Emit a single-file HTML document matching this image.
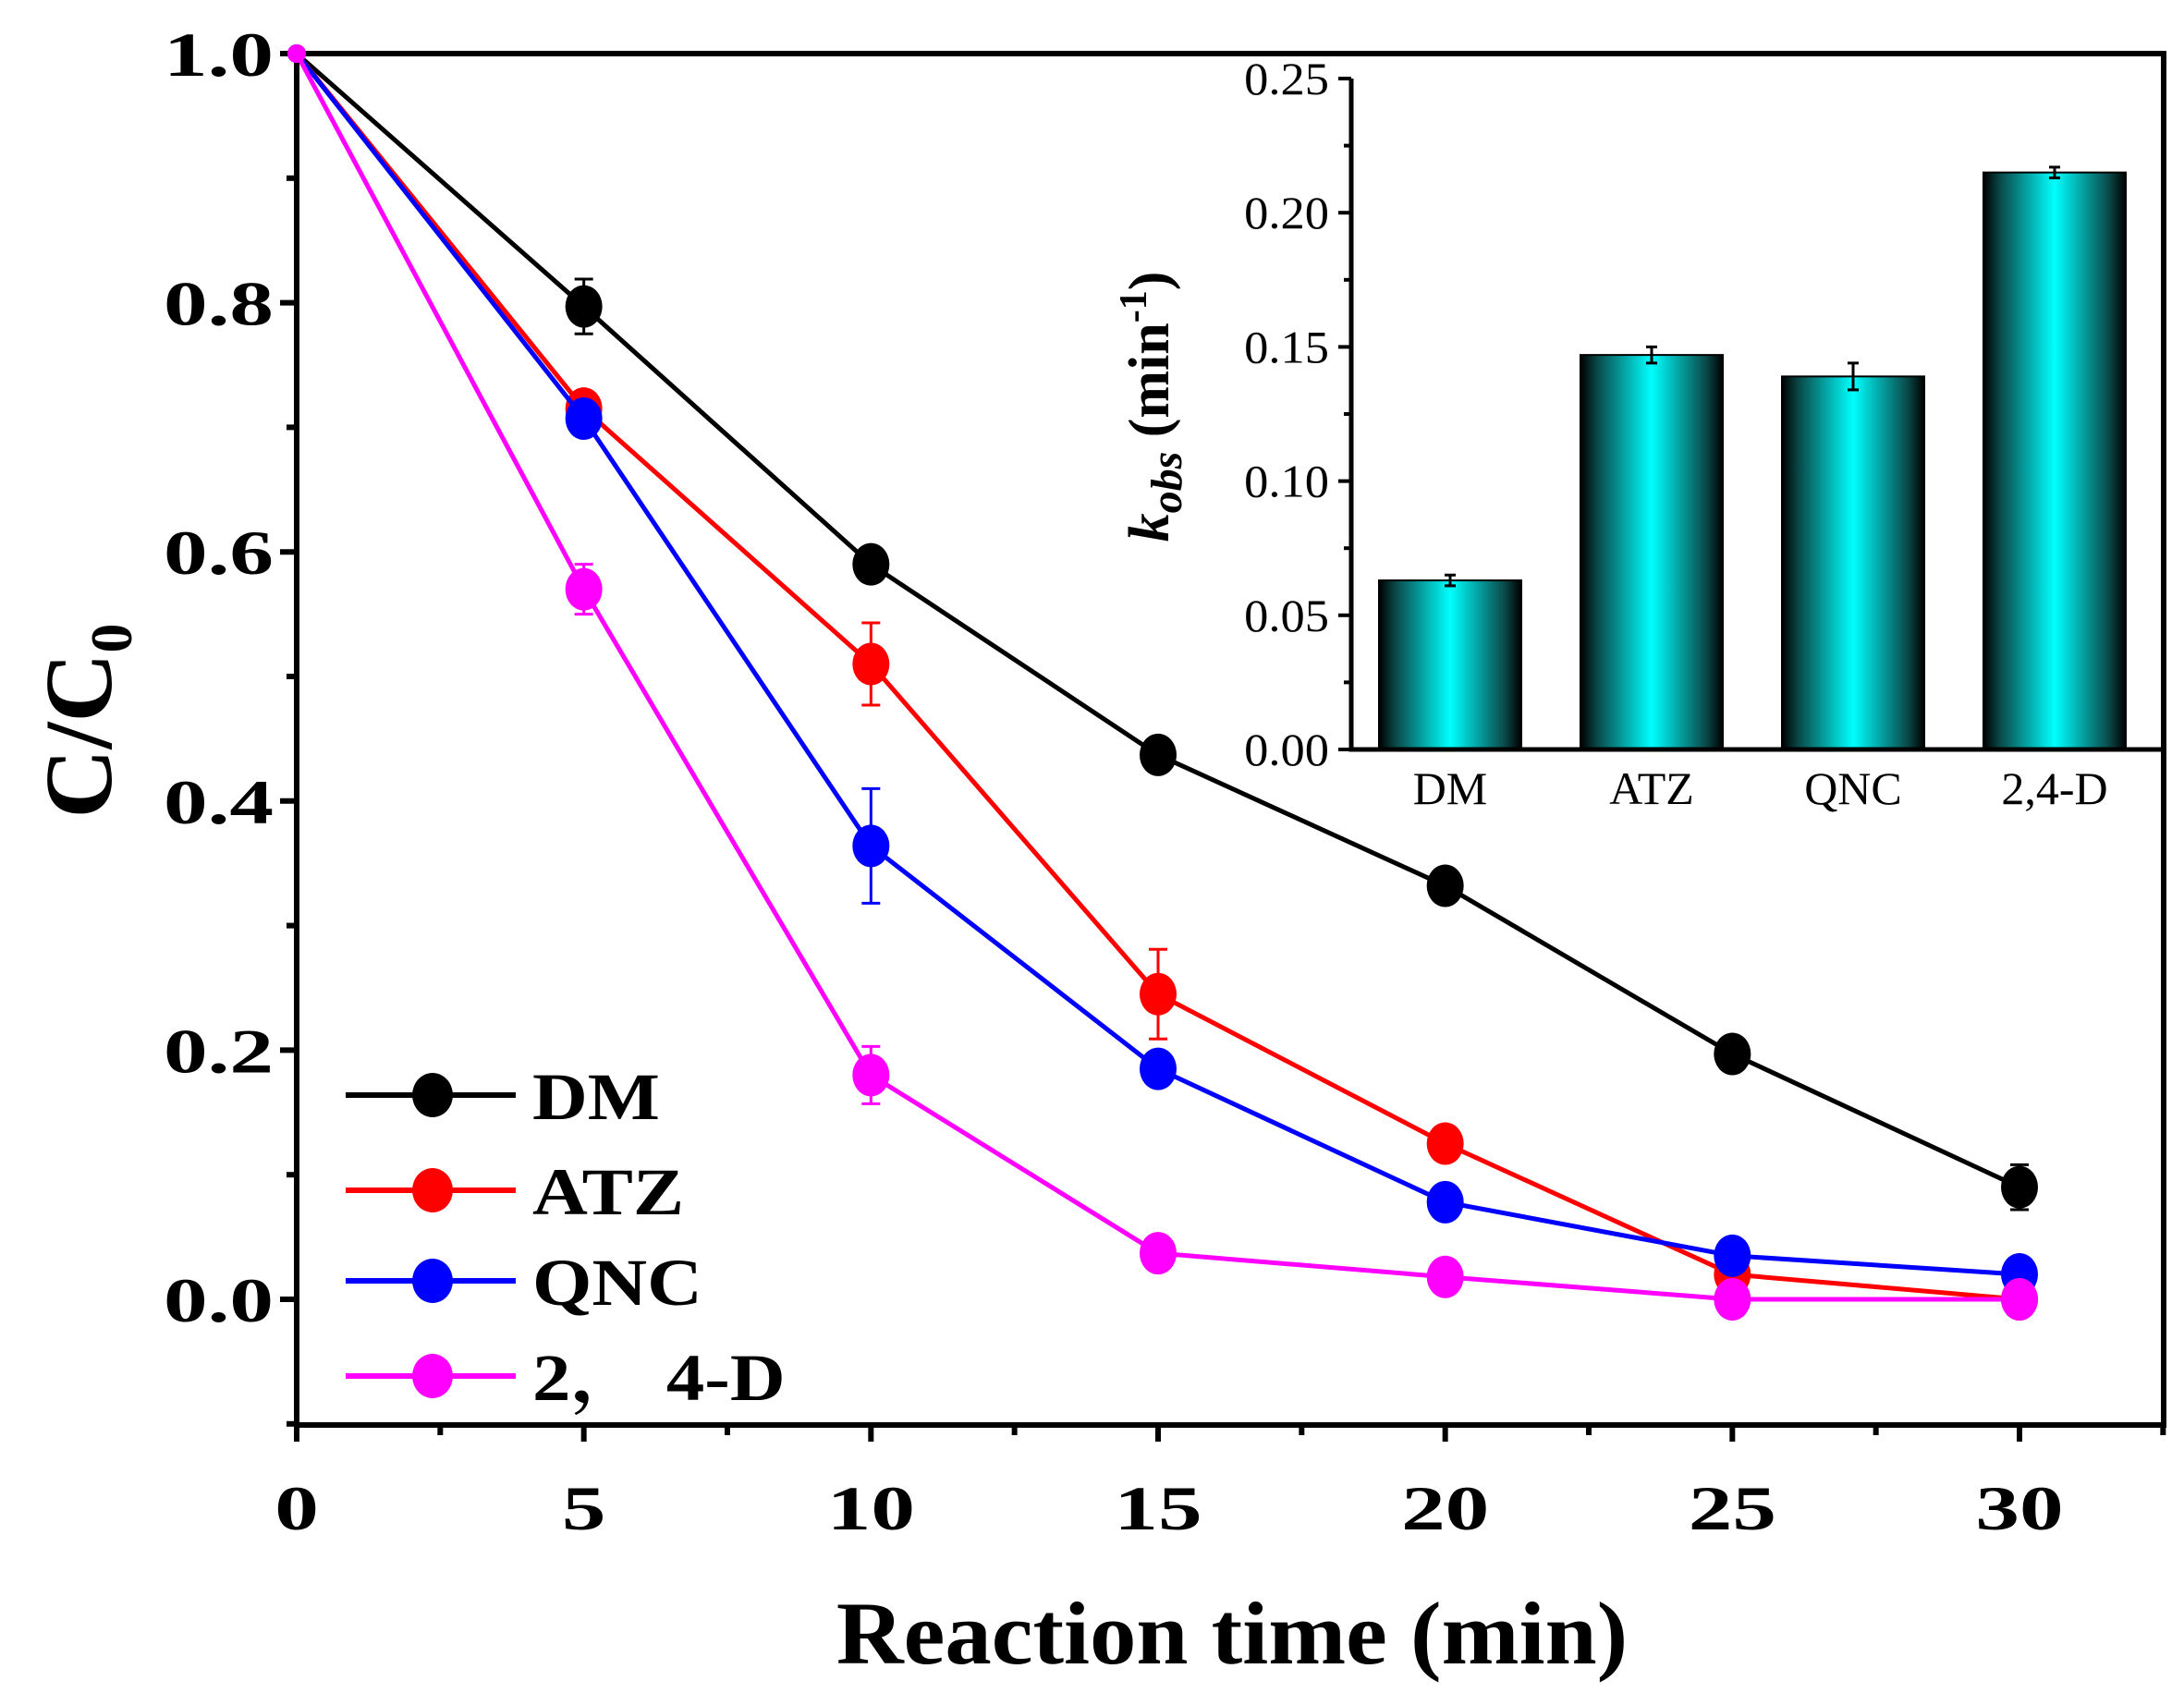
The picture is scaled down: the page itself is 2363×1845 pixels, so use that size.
<!DOCTYPE html>
<html><head><meta charset="utf-8"><style>
html,body{margin:0;padding:0;background:#fff;}
svg{display:block;font-family:"Liberation Serif",serif;}
</style></head><body>
<svg id="chart" width="2363" height="1845" viewBox="0 0 2363 1845" xmlns="http://www.w3.org/2000/svg">
<defs>
<linearGradient id="barGrad" x1="0" x2="1" y1="0" y2="0">
<stop offset="0" stop-color="#000"/><stop offset="0.12" stop-color="#0a4a4a"/><stop offset="0.5" stop-color="#00ffff"/><stop offset="0.88" stop-color="#0a4a4a"/><stop offset="1" stop-color="#000"/>
</linearGradient>
</defs>
<g id="main"></g>
<g id="inset"></g>
</svg>
<script>
const times = [0, 5, 10, 15, 20, 25, 30];
const seriesNames = ["DM", "ATZ", "QNC", "2\uFF0C 4-D"];
const seriesColors = ["#000000", "#ff0000", "#0000ff", "#ff00ff"];
const dmValues = [1, 0.797, 0.59, 0.437, 0.332, 0.197, 0.09];
const dmErrors = [0, 0.022, 0.01, 0.01, 0.01, 0.012, 0.018];
const atzValues = [1, 0.715, 0.51, 0.245, 0.125, 0.02, 0.0];
const atzErrors = [0, 0.01, 0.033, 0.036, 0.01, 0.015, 0.005];
const qncValues = [1, 0.707, 0.364, 0.185, 0.078, 0.035, 0.02];
const qncErrors = [0, 0.01, 0.046, 0.01, 0.01, 0.01, 0.01];
const dValues = [1, 0.57, 0.18, 0.037, 0.018, 0.0, 0.0];
const dErrors = [0, 0.02, 0.023, 0.008, 0.005, 0.005, 0.005];
const xTicks = [0, 5, 10, 15, 20, 25, 30];
const yTicks = [0.0, 0.2, 0.4, 0.6, 0.8, 1.0];
const insetCategories = ["DM", "ATZ", "QNC", "2,4-D"];
const insetValues = [0.063, 0.147, 0.139, 0.215];
const insetErrors = [0.002, 0.003, 0.005, 0.002];
const insetTicks = [0.00, 0.05, 0.10, 0.15, 0.20, 0.25];

const NS = "http://www.w3.org/2000/svg";
function mk(parent, tag, attrs, text) {
  const e = document.createElementNS(NS, tag);
  for (const k in attrs) e.setAttribute(k, attrs[k]);
  if (text !== undefined) e.textContent = text;
  parent.appendChild(e);
  return e;
}
const X0 = 321, X30 = 2185, Y0 = 1406, Y1 = 58;
const L = 321, R = 2341, T = 58, B = 1542;
const sx = v => X0 + (X30 - X0) * v / 30;
const sy = v => Y0 - (Y0 - Y1) * v;
const main = document.getElementById('main');

const frame = mk(main, 'rect', {x: L, y: T, width: R - L, height: B - T, fill: 'none', stroke: '#000', 'stroke-width': 6});



for (let k = -1; k <= 10; k++) {
  const v = k / 10, major = k % 2 === 0;
  const t = mk(main, 'line', {x1: L - (major ? 18 : 11), x2: L, y1: sy(v), y2: sy(v), stroke: '#000', 'stroke-width': 6});
  
  
}
yTicks.forEach(v => {
  const t = mk(main, 'text', {transform: `translate(296,${sy(v) + 24}) scale(1.4,1)`, 'text-anchor': 'end', 'font-size': 68, 'font-weight': 'bold'}, v.toFixed(1));
  
  
});
for (let k = 0; k <= 13; k++) {
  const v = k * 2.5, major = k % 2 === 0;
  const t = mk(main, 'line', {x1: sx(v), x2: sx(v), y1: B, y2: B + (major ? 18 : 11), stroke: '#000', 'stroke-width': 6});
  
  
}
xTicks.forEach(v => {
  const t = mk(main, 'text', {transform: `translate(${sx(v)},1655) scale(1.4,1)`, 'text-anchor': 'middle', 'font-size': 68, 'font-weight': 'bold'}, String(v));
  
  
});
const xt = mk(main, 'text', {transform: 'translate(1333,1800) scale(1.05,1)', 'text-anchor': 'middle', 'font-size': 96, 'font-weight': 'bold'}, 'Reaction time (min)');


const yt = mk(main, 'text', {x: 0, y: 0, transform: 'translate(120,780) rotate(-90)', 'text-anchor': 'middle', 'font-size': 104, 'font-weight': 'bold'});


yt.appendChild(document.createTextNode('C/C'));
mk(yt, 'tspan', {'font-size': 64, dy: 22}, '0');

const allValues = [dmValues, atzValues, qncValues, dValues];
const allErrors = [dmErrors, atzErrors, qncErrors, dErrors];
const slugs = ['dm', 'atz', 'qnc', '2-4-d'];
allValues.forEach((vals, si) => {
  const col = seriesColors[si];
  const g = mk(main, 'g', {});
  
  
  const pts = times.map((t, i) => sx(t) + ',' + sy(vals[i])).join(' ');
  const pl = mk(g, 'polyline', {points: pts, fill: 'none', stroke: col, 'stroke-width': 5});
  
  
  times.forEach((t, i) => {
    const e = allErrors[si][i];
    if (e > 0) {
      const x = sx(t), ya = sy(vals[i] + e), yb = sy(vals[i] - e);
      const eb = mk(g, 'path', {d: `M${x},${ya}V${yb}M${x-10},${ya}H${x+10}M${x-10},${yb}H${x+10}`, stroke: col, 'stroke-width': 3, fill: 'none'});
      
      
    }
    const c = mk(g, 'ellipse', {cx: sx(t), cy: sy(vals[i]), rx: i === 0 ? 10 : 20, ry: i === 0 ? 10 : 23, fill: col});
    
    
  });
});
const legRows = [1185, 1288, 1386, 1489];
seriesNames.forEach((n, i) => {
  const g = mk(main, 'g', {});
  
  
  mk(g, 'line', {x1: 374, x2: 558, y1: legRows[i], y2: legRows[i], stroke: seriesColors[i], 'stroke-width': 6});
  mk(g, 'ellipse', {cx: 468, cy: legRows[i], rx: 22, ry: 24, fill: seriesColors[i]});
  mk(g, 'text', {transform: `translate(576,${legRows[i] + 26}) scale(1.15,1)`, 'font-size': 72, 'font-weight': 'bold', 'font-family': '"Liberation Serif","Noto Serif CJK SC",serif'}, n);
});

const inset = document.getElementById('inset');
const IL = 1462, IB = 811, IT = 85, IR = 2338;
const iy = v => IB - (IB - IT) * v / 0.25;
const barCenters = [1569, 1787, 2005, 2223];
const bw = 154;
for (let k = 0; k <= 10; k++) {
  const v = k * 0.025, major = k % 2 === 0;
  const t = mk(inset, 'line', {x1: IL - (major ? 14 : 8), x2: IL, y1: iy(v), y2: iy(v), stroke: '#000', 'stroke-width': 4});
  
  
}
insetTicks.forEach(v => {
  const t = mk(inset, 'text', {transform: `translate(1438,${iy(v) + 17}) scale(1.05,1)`, 'text-anchor': 'end', 'font-size': 50}, v.toFixed(2));
  
  
});
insetValues.forEach((v, i) => {
  const cx = barCenters[i];
  const b = mk(inset, 'rect', {x: cx - bw / 2, y: iy(v), width: bw, height: IB - iy(v), fill: 'url(#barGrad)', stroke: '#000', 'stroke-width': 2});
  
  
  const ya = iy(v + insetErrors[i]), yb = iy(v - insetErrors[i]);
  const eb = mk(inset, 'path', {d: `M${cx},${ya}V${yb}M${cx-6},${ya}H${cx+6}M${cx-6},${yb}H${cx+6}`, stroke: '#000', 'stroke-width': 3, fill: 'none'});
  
  
  const lb = mk(inset, 'text', {x: cx, y: 870, 'text-anchor': 'middle', 'font-size': 50}, insetCategories[i]);
  
  
});
const ax1 = mk(inset, 'path', {d: `M${IL},${IT}V${IB}H${IR}`, fill: 'none', stroke: '#000', 'stroke-width': 5});


const it = mk(inset, 'text', {x: 0, y: 0, transform: 'translate(1264,440) rotate(-90)', 'text-anchor': 'middle', 'font-size': 62, 'font-weight': 'bold'});


mk(it, 'tspan', {'font-style': 'italic'}, 'k');
mk(it, 'tspan', {'font-style': 'italic', 'font-size': 48, dy: 14}, 'obs');
mk(it, 'tspan', {dy: -14}, ' (min');
mk(it, 'tspan', {'font-size': 42, dy: -24}, '-1');
mk(it, 'tspan', {dy: 24}, ')');
</script>
</body></html>
